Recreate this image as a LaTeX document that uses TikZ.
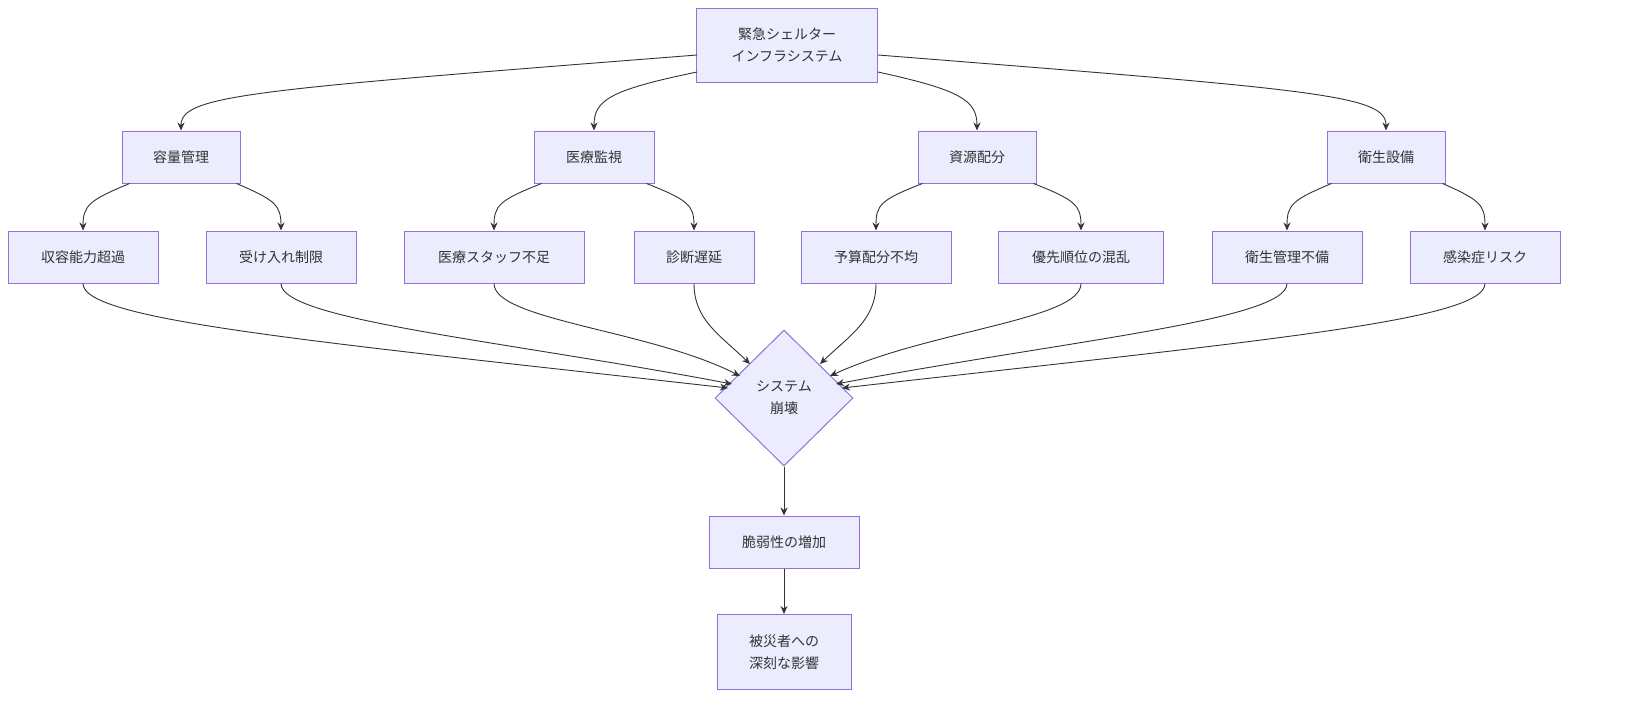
\documentclass[tikz,border=0pt]{standalone}
\usepackage{fontspec}
\setmainfont{Noto Sans CJK JP}
\usetikzlibrary{shapes.geometric,arrows.meta}
\definecolor{bx}{HTML}{ECECFF}
\definecolor{bd}{HTML}{9370DB}
\definecolor{tx}{HTML}{333333}
\begin{document}
\begin{tikzpicture}[x=1pt,y=-1pt,
 box/.style={draw=bd,fill=bx,line width=1pt,text=tx,align=center,inner sep=0pt,minimum height=52pt,font=\fontsize{14}{22}\selectfont},
 dia/.style={diamond,draw=bd,fill=bx,line width=1pt,text=tx,align=center,inner sep=0pt,minimum width=138pt,minimum height=136pt,font=\fontsize{14}{22}\selectfont},
 ar/.style={draw=tx,line width=0.9pt,-{Stealth[length=8pt,width=7pt]}}]
\node[box,minimum width=181pt,minimum height=74pt] (top) at (787,45) {緊急シェルター\\インフラシステム};
\node[box,minimum width=118pt] (a) at (181,157) {容量管理};
\node[box,minimum width=120pt] (b) at (594,157) {医療監視};
\node[box,minimum width=118pt] (c) at (977,157) {資源配分};
\node[box,minimum width=118pt] (d) at (1386,157) {衛生設備};
\node[box,minimum width=150pt] (a1) at (83,257) {収容能力超過};
\node[box,minimum width=150pt] (a2) at (281,257) {受け入れ制限};
\node[box,minimum width=180pt] (b1) at (494,257) {医療スタッフ不足};
\node[box,minimum width=120pt] (b2) at (694,257) {診断遅延};
\node[box,minimum width=150pt] (c1) at (876,257) {予算配分不均};
\node[box,minimum width=165pt] (c2) at (1081,257) {優先順位の混乱};
\node[box,minimum width=150pt] (d1) at (1287,257) {衛生管理不備};
\node[box,minimum width=150pt] (d2) at (1485,257) {感染症リスク};
\node[dia] (s) at (784,398) {システム\\崩壊};
\node[box,minimum width=150pt] (v) at (784,542) {脆弱性の増加};
\node[box,minimum width=134pt,minimum height=75pt] (e) at (784,652) {被災者への\\深刻な影響};
\coordinate (t1) at (697,55); \coordinate (t2) at (697,72);
\coordinate (t3) at (878,72); \coordinate (t4) at (878,55);
\draw[ar] (t1) .. controls (250,90) and (181,95) .. (a.north);
\draw[ar] (t2) .. controls (610,90) and (594,100) .. (b.north);
\draw[ar] (t3) .. controls (960,90) and (977,100) .. (c.north);
\draw[ar] (t4) .. controls (1320,90) and (1386,95) .. (d.north);
\draw[ar] ([xshift=8]a.south west) .. controls (90,200) and (83,205) .. (a1.north);
\draw[ar] ([xshift=-4]a.south east) .. controls (275,200) and (281,205) .. (a2.north);
\draw[ar] ([xshift=8]b.south west) .. controls (500,200) and (494,205) .. (b1.north);
\draw[ar] ([xshift=-8]b.south east) .. controls (688,200) and (694,205) .. (b2.north);
\draw[ar] ([xshift=5]c.south west) .. controls (880,200) and (876,205) .. (c1.north);
\draw[ar] ([xshift=-3]c.south east) .. controls (1075,200) and (1081,205) .. (c2.north);
\draw[ar] ([xshift=5]d.south west) .. controls (1292,200) and (1287,205) .. (d1.north);
\draw[ar] ([xshift=-3]d.south east) .. controls (1480,200) and (1485,205) .. (d2.north);
\draw[ar] (a1.south) .. controls (83,320) and (300,340) .. (728,388);
\draw[ar] (a2.south) .. controls (281,320) and (500,340) .. (732,384);
\draw[ar] (b1.south) .. controls (494,320) and (650,330) .. (740,376);
\draw[ar] (b2.south) .. controls (694,320) and (720,335) .. (750,364);
\draw[ar] (c1.south) .. controls (876,320) and (850,335) .. (820,364);
\draw[ar] (c2.south) .. controls (1081,320) and (930,330) .. (830,376);
\draw[ar] (d1.south) .. controls (1287,320) and (1070,340) .. (836,384);
\draw[ar] (d2.south) .. controls (1485,320) and (1270,340) .. (842,388);
\draw[ar] (s.south) -- (v.north);
\draw[ar] (v.south) -- (e.north);
\pgfresetboundingbox
\path[use as bounding box] (0,0) rectangle (1630,726);
\end{tikzpicture}
\end{document}
